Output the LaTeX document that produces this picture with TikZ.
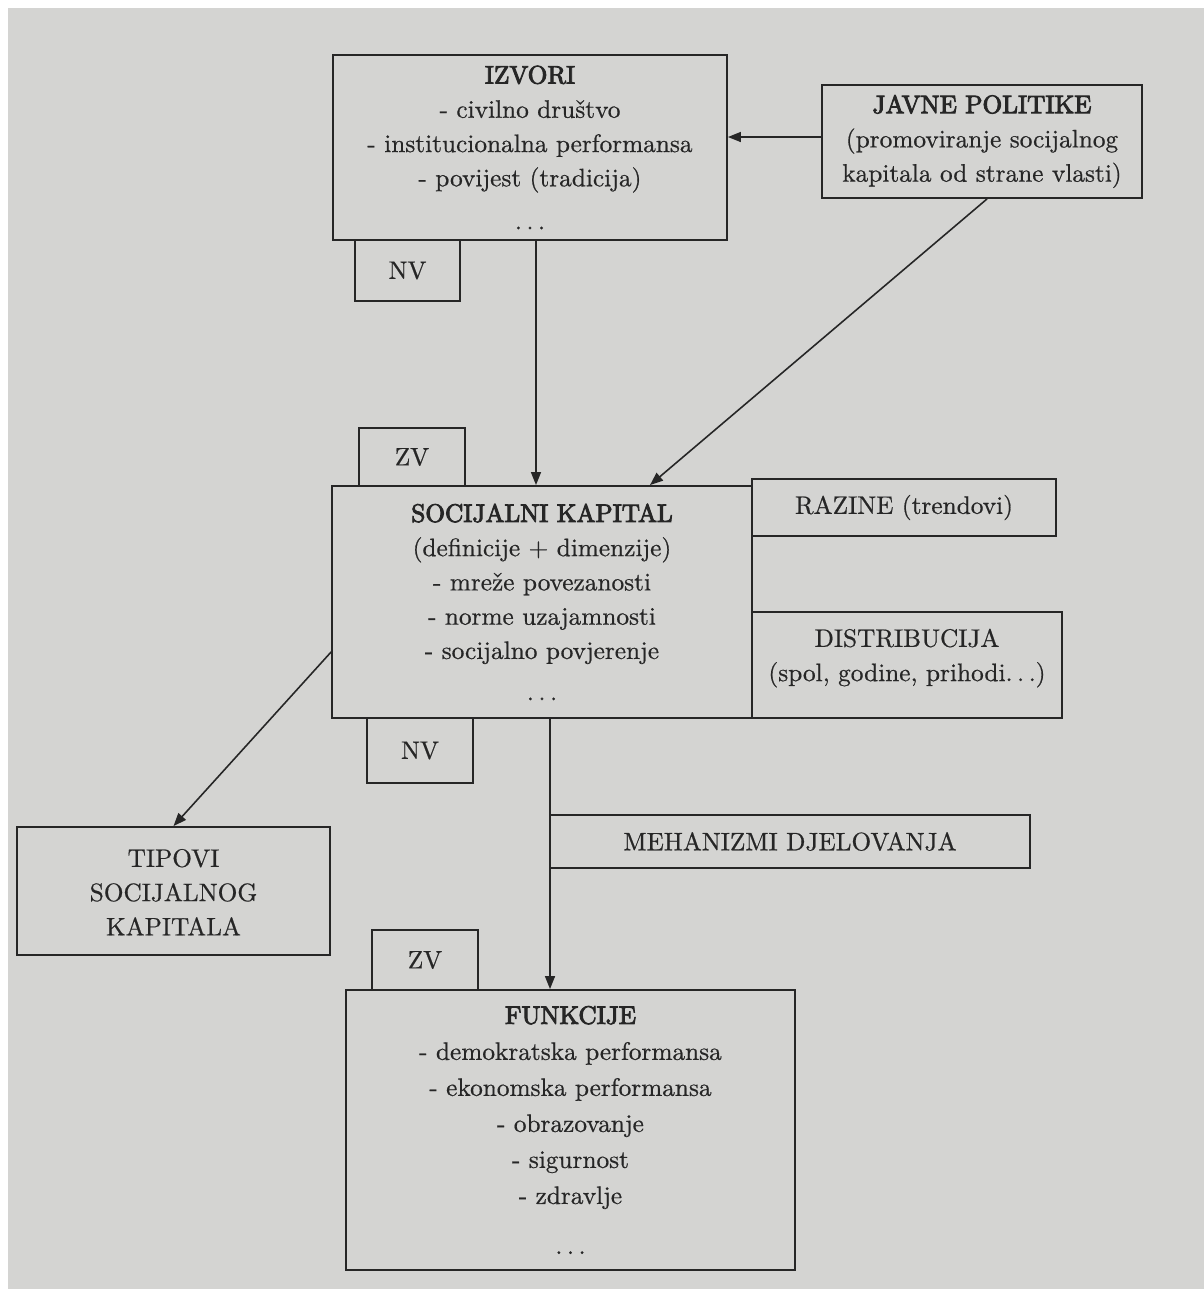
\documentclass[tikz,border=0pt]{standalone}
\usepackage{fontspec}
\setmainfont{lmroman10-regular.otf}[FakeBold=0.6]
\newfontfamily\ttlfont{lmroman10-regular.otf}[FakeBold=3.5]
\newcommand{\sdots}{.\hspace{0.18em}.\hspace{0.18em}.}
\usetikzlibrary{arrows.meta}
\definecolor{page}{RGB}{212,212,210}
\definecolor{ink}{RGB}{38,38,38}
\begin{document}
\begin{tikzpicture}[x=0.02cm,y=-0.02cm,
  box/.style={draw=ink, line width=1.1pt, rectangle, align=center, inner sep=0pt,
    text=ink, font=\fontsize{14.4}{19.5}\selectfont},
  tab/.style={box},
  arr/.style={draw=ink, line width=0.9pt, -{Triangle[length=0.26cm,width=0.2cm]}},
]
\fill[white] (0,0) rectangle (1204,1289);
\fill[page] (8,8) rectangle (1204,1289);
\useasboundingbox (0,0) rectangle (1204,1289);

% top row
\node[box, minimum width=7.88cm, minimum height=3.7cm] (izvori) at (530,147.5)
  {{\ttlfont IZVORI}\\- civilno društvo\\- institucionalna performansa\\- povijest (tradicija)\\[5pt]\sdots};
\node[tab, minimum width=2.1cm, minimum height=1.22cm] (nv1) at (407.5,270.5) {NV};
\node[box, minimum width=6.4cm, minimum height=2.26cm] (javne) at (982,141.5)
  {{\ttlfont JAVNE POLITIKE}\\(promoviranje socijalnog\\kapitala od strane vlasti)};

% middle
\node[tab, minimum width=2.12cm, minimum height=1.16cm] (zv1) at (412,457) {ZV};
\node[box, minimum width=8.4cm, minimum height=4.64cm] (sk) at (542,602)
  {{\ttlfont SOCIJALNI KAPITAL}\\(definicije + dimenzije)\\- mreže povezanosti\\- norme uzajamnosti\\- socijalno povjerenje\\[4pt]\sdots};
\node[box, minimum width=6.08cm, minimum height=1.14cm] (razine) at (904,507.5) {RAZINE (trendovi)};
\node[box, minimum width=6.2cm, minimum height=2.12cm, text depth=0pt] (distr) at (907,665)
  {DISTRIBUCIJA\\(spol, godine, prihodi\sdots)\\[-8pt]};
\node[tab, minimum width=2.12cm, minimum height=1.3cm] (nv2) at (420,750.5) {NV};

% lower
\node[box, minimum width=6.26cm, minimum height=2.56cm] (tipovi) at (173.5,891)
  {\\[-8pt]TIPOVI\\SOCIJALNOG\\KAPITALA};
\node[box, minimum width=9.6cm, minimum height=1.06cm] (meh) at (790,841.5) {MEHANIZMI DJELOVANJA};
\node[tab, minimum width=2.12cm, minimum height=1.2cm] (zv2) at (425,960) {ZV};
\node[box, minimum width=8.98cm, minimum height=5.6cm, font=\fontsize{14.4}{20.5}\selectfont] (funk) at (570.5,1130)
  {{\ttlfont FUNKCIJE}\\- demokratska performansa\\- ekonomska performansa\\- obrazovanje\\- sigurnost\\- zdravlje\\[8pt]\sdots};

% connectors
\draw[arr] (javne.west |- 0,137) -- (izvori.east |- 0,137);
\draw[arr] (536,0 |- izvori.south) -- (536,0 |- sk.north);
\draw[arr] (987,0 |- javne.south) -- (650,0 |- sk.north);
\draw[arr] (sk.west |- 0,652) -- (tipovi.north);
\draw[arr] (550,0 |- sk.south) -- (550,0 |- funk.north);
\end{tikzpicture}
\end{document}
